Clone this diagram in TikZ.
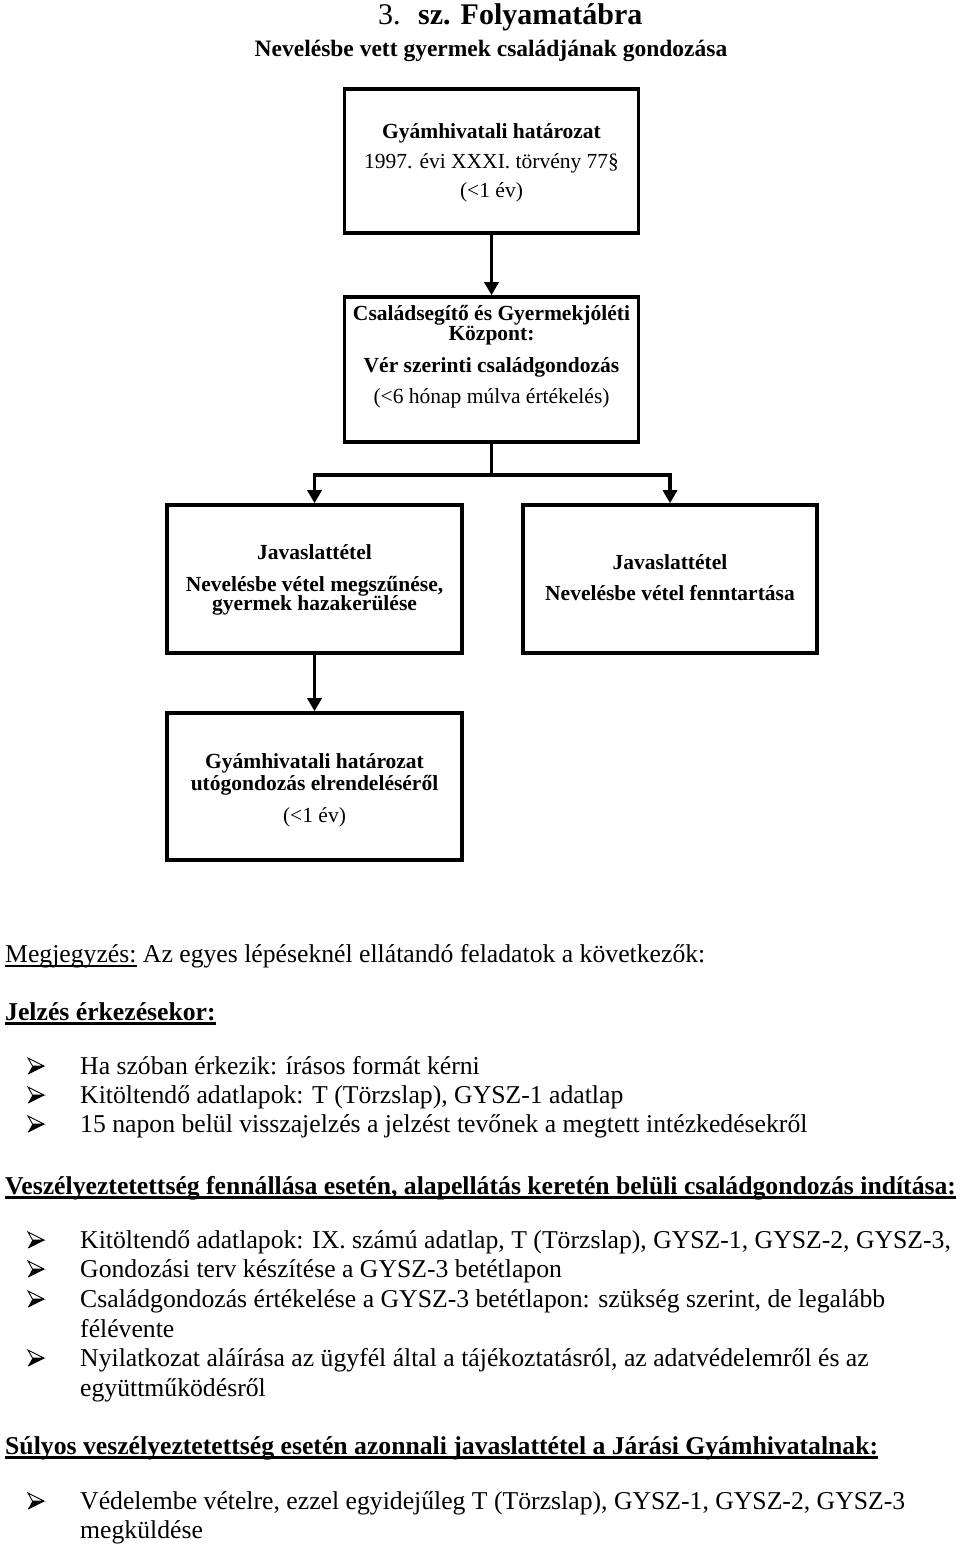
\documentclass[tikz,border=0pt]{standalone}
\usepackage{fontspec}
\setmainfont{Liberation Serif}
\usetikzlibrary{arrows.meta}
\newcommand\ulin[2][2.2]{\setbox0\hbox{#2}\rlap{\rule[-4.5pt]{\wd0}{#1pt}}\box0\relax}
\begin{document}
\begin{tikzpicture}[x=1pt,y=-1pt,
  flowbox/.style={draw, line width=3.6pt, minimum width=#1, minimum height=146pt, inner sep=0pt},
  flowbox/.default=294pt,
  btxt/.style={anchor=base, inner sep=0pt, font=\fontsize{21.5}{24}\selectfont},
  bbold/.style={btxt, font=\fontsize{21.5}{24}\selectfont\bfseries},
  body/.style={anchor=base west, inner sep=0pt, font=\fontsize{25.7}{29}\selectfont},
  head/.style={body, font=\fontsize{25.7}{29}\selectfont\bfseries},
  conn/.style={line width=3.8pt},
  arr/.style={line width=3.8pt, -{Triangle[width=14pt,length=13pt]}},
  bullet/.pic={
    \draw[line width=0.9pt, line join=miter, fill=white] (0,-8) -- (16,0) -- (4.5,0) -- cycle;
    \fill[black] (4.5,0) -- (16,0) -- (0,8) -- cycle;
    \draw[line width=0.9pt, line join=miter] (0,8) -- (16,0);
  }
]
\useasboundingbox (0,0) rectangle (960,1545);
\fill[white] (0,0) rectangle (960,1545);

% title
\node[anchor=base west, inner sep=0pt, font=\fontsize{30}{34}\selectfont] (t1) at (378,24) {3.};
\node[anchor=base west, inner sep=0pt, font=\fontsize{30}{34}\selectfont\bfseries] (t2) at (418,24) {sz. Folyamatábra};
\node[anchor=base, inner sep=0pt, font=\fontsize{23.5}{26}\selectfont\bfseries] (t3) at (491,56) {Nevelésbe vett gyermek családjának gondozása};

% boxes
\node[flowbox, minimum height=144pt] (b1) at (491.5,161) {};
\node[flowbox, minimum height=145pt] (b2) at (491.5,369.5) {};
\node[flowbox=295pt, minimum height=148pt] (b3) at (314.5,579) {};
\node[flowbox=294pt, minimum height=148pt] (b4) at (670,579) {};
\node[flowbox=295pt, minimum height=147pt] (b5) at (314.5,786.5) {};

% box texts
\node[bbold] (b1a) at (491.5,138) {Gyámhivatali határozat};
\node[btxt] (b1b) at (491.5,168) {1997. évi XXXI. törvény 77§};
\node[btxt] (b1c) at (491.5,197) {(<1 év)};

\node[bbold] (b2a) at (491.5,320) {Családsegítő és Gyermekjóléti};
\node[bbold] (b2b) at (491.5,340) {Központ:};
\node[bbold] (b2c) at (491.5,372) {Vér szerinti családgondozás};
\node[btxt] (b2d) at (491.5,403) {(<6 hónap múlva értékelés)};

\node[bbold] (b3a) at (314.5,559) {Javaslattétel};
\node[bbold] (b3b) at (314.5,591) {Nevelésbe vétel megszűnése,};
\node[bbold] (b3c) at (314.5,610) {gyermek hazakerülése};

\node[bbold] (b4a) at (670,569) {Javaslattétel};
\node[bbold] (b4b) at (670,600) {Nevelésbe vétel fenntartása};

\node[bbold] (b5a) at (314.5,768) {Gyámhivatali határozat};
\node[bbold] (b5b) at (314.5,790) {utógondozás elrendeléséről};
\node[btxt] (b5c) at (314.5,822) {(<1 év)};

% connectors
\coordinate (j) at (491.5,475);
\draw[arr] (b1.south) -- (b2.north);
\draw[conn, line cap=rect] (b2.south) -- (j);
\draw[arr] (j) -| (b3.north);
\draw[arr] (j) -| (b4.north);
\draw[arr] (b3.south) -- (b5.north);

% notes
\node[body] (n1) at (5,962) {\ulin[1.5]{Megjegyzés:} Az egyes lépéseknél ellátandó feladatok a következők:};
\node[head] (h1) at (5,1020) {\ulin{Jelzés érkezésekor:}};
\foreach \yy in {1074,1103,1132,1248,1277,1307,1366,1509}
  \pic at (28,\yy-8) {bullet};
\node[body] (l1) at (80,1074) {Ha szóban érkezik: írásos formát kérni};
\node[body] (l2) at (80,1103) {Kitöltendő adatlapok: T (Törzslap), GYSZ-1 adatlap};
\node[body] (l3) at (80,1132) {15 napon belül visszajelzés a jelzést tevőnek a megtett intézkedésekről};

\node[head] (h2) at (5,1194) {\ulin{Veszélyeztetettség fennállása esetén, alapellátás keretén belüli családgondozás indítása:}};
\node[body] (l4) at (80,1248) {Kitöltendő adatlapok: IX. számú adatlap, T (Törzslap), GYSZ-1, GYSZ-2, GYSZ-3,};
\node[body] (l5) at (80,1277) {Gondozási terv készítése a GYSZ-3 betétlapon};
\node[body] (l6) at (80,1307) {Családgondozás értékelése a GYSZ-3 betétlapon: szükség szerint, de legalább};
\node[body] (l6b) at (80,1337) {félévente};
\node[body] (l7) at (80,1366) {Nyilatkozat aláírása az ügyfél által a tájékoztatásról, az adatvédelemről és az};
\node[body] (l7b) at (80,1396) {együttműködésről};

\node[head] (h3) at (5,1454) {\ulin{Súlyos veszélyeztetettség esetén azonnali javaslattétel a Járási Gyámhivatalnak:}};
\node[body] (l8) at (80,1509) {Védelembe vételre, ezzel egyidejűleg T (Törzslap), GYSZ-1, GYSZ-2, GYSZ-3};
\node[body] (l8b) at (80,1538) {megküldése};
\end{tikzpicture}
\end{document}
